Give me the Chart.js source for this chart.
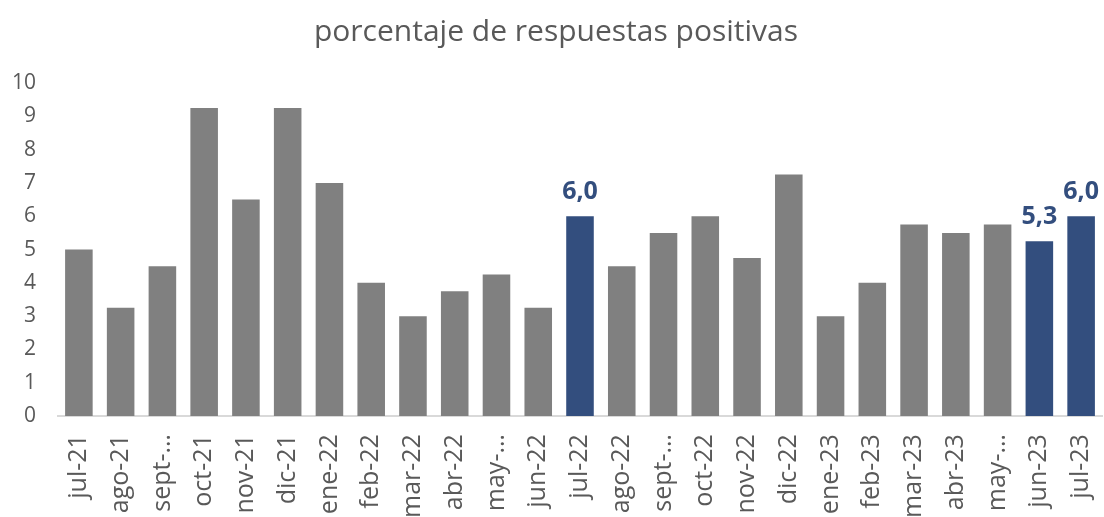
<!DOCTYPE html>
<html>
<head>
<meta charset="utf-8">
<script src="https://cdn.jsdelivr.net/npm/chart.js@4/dist/chart.umd.min.js"></script>
<style>
  html, body { margin: 0; padding: 0; background: #fff; overflow: hidden; }
  .clip { width: 1104px; height: 517px; overflow: hidden; }
  .wrap { width: 1104px; height: 536px; }
</style>
</head>
<body>
<div class="clip"><div class="wrap"><canvas id="chart"></canvas></div></div>
<script>
const months = ['jul-21','ago-21','sept-21','oct-21','nov-21','dic-21','ene-22','feb-22','mar-22','abr-22','may-22','jun-22',
  'jul-22','ago-22','sept-22','oct-22','nov-22','dic-22','ene-23','feb-23','mar-23','abr-23','may-23','jun-23','jul-23']
const values = [5.0, 3.25, 4.5, 9.25, 6.5, 9.25, 7.0, 4.0, 3.0, 3.75, 4.25, 3.25,
  6.0, 4.5, 5.5, 6.0, 4.75, 7.25, 3.0, 4.0, 5.75, 5.5, 5.75, 5.25, 6.0]
const highlighted = ['jul-22', 'jun-23', 'jul-23']
// labels that Excel clipped in the original
const clipped = ['sept-21', 'may-22', 'sept-22', 'may-23']

const grey = '#808080'
const navy = '#334e7e'
const textGrey = '#595959'
const font = '"Open Sans", "Noto Sans", sans-serif'

const barLabels = {
  id: 'barLabels',
  afterDatasetsDraw(chart) {
    const { ctx } = chart
    const meta = chart.getDatasetMeta(0)
    ctx.save()
    ctx.font = 'bold 25px ' + font
    ctx.fillStyle = navy
    ctx.textAlign = 'center'
    ctx.textBaseline = 'bottom'
    meta.data.forEach((bar, i) => {
      if (!highlighted.includes(months[i])) return
      ctx.fillText(values[i].toFixed(1).replace('.', ','), bar.x, bar.y - 12)
    })
    ctx.restore()
  }
}

new Chart(document.getElementById('chart'), {
  type: 'bar',
  data: {
    labels: months,
    datasets: [{
      data: values,
      backgroundColor: months.map(m => highlighted.includes(m) ? navy : grey),
      borderWidth: 0,
      categoryPercentage: 1,
      barPercentage: 0.66
    }]
  },
  options: {
    responsive: true,
    maintainAspectRatio: false,
    animation: false,
    layout: { padding: { left: 10, right: 2, top: 0, bottom: 0 } },
    plugins: {
      legend: { display: false },
      tooltip: { enabled: false },
      title: {
        display: true,
        text: 'porcentaje de respuestas positivas',
        color: textGrey,
        font: { family: font, size: 30, weight: 'normal' },
        padding: { top: 14, bottom: 33 }
      }
    },
    scales: {
      x: {
        grid: { display: false, drawTicks: false },
        border: { color: '#d9d9d9', width: 2 },
        afterFit(scale) {
          scale.paddingLeft = 0
          scale.paddingRight = 0
        },
        ticks: {
          color: textGrey,
          font: { family: font, size: 25 },
          minRotation: 90,
          maxRotation: 90,
          autoSkip: false,
          padding: 18,
          callback(v, i) {
            const m = months[i]
            return clipped.includes(m) ? m.split('-')[0] + '-…' : m
          }
        }
      },
      y: {
        min: 0,
        max: 10,
        grid: { display: false, drawTicks: false },
        border: { display: false },
        afterFit(scale) {
          scale.width = 48
        },
        ticks: {
          stepSize: 1,
          color: textGrey,
          font: { family: font, size: 21 },
          padding: 22
        }
      }
    }
  },
  plugins: [barLabels]
})
</script>
</body>
</html>
